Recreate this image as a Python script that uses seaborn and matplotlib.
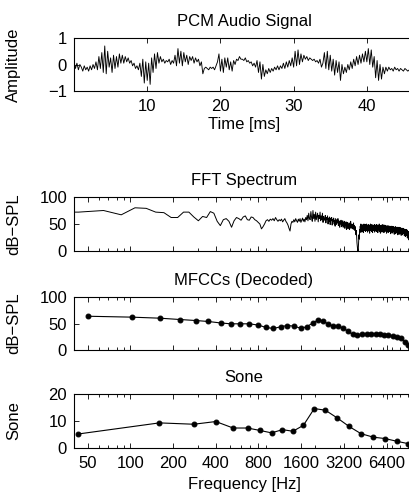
import numpy as np
import matplotlib
matplotlib.use("Agg")
import matplotlib.pyplot as plt
import matplotlib.ticker as mticker
import seaborn as sns

# ---------------- data ----------------
pcm_step_ms = 0.2
pcm_amplitude = [
    0.1, -0.15, 0.05, -0.2, 0.0,   -0.1, -0.25, -0.05, -0.2, -0.1,
    -0.25, -0.05, -0.2, 0.0, -0.15, 0.1, -0.2, 0.3, -0.15, 0.45,
    -0.3, 0.7, -0.35, 0.5, -0.1,   0.25, -0.3, 0.35, -0.15, 0.3,
    -0.1, 0.4, 0.05, 0.35, 0.05,   0.3, 0.1, 0.25, 0.05, 0.15,
    -0.05, 0.05, -0.15, -0.05, -0.2, 0.05, -0.45, 0.2, -0.7, 0.1,
    -0.6, 0.05, -0.75, 0.25, -0.3, 0.4, -0.15, 0.45, 0.05, 0.3,
    0.1, 0.2, 0.05, 0.15, 0.1,     0.2, 0.0, 0.15, 0.05, 0.35,
    -0.05, 0.6, 0.05, 0.5, -0.05,  0.45, 0.1, 0.35, 0.0, 0.3,
    0.15, 0.3, 0.05, 0.25, 0.1,    0.2, -0.05, 0.1, -0.35, -0.15,
    -0.1, -0.15, -0.2, -0.1, -0.15, -0.1, -0.2, -0.05, 0.1, 0.4,
    -0.25, 0.2, -0.3, 0.25, -0.1,  0.25, -0.2, 0.1, -0.25, 0.15,
    0.0, 0.2, 0.15, 0.3, 0.2,      0.2, 0.15, 0.25, 0.1, 0.15,
    0.05, 0.1, -0.05, 0.05, -0.1,  0.15, -0.3, 0.1, -0.55, 0.0,
    -0.45, -0.2, -0.35, -0.15, -0.3, -0.15, -0.25, -0.1, -0.2, -0.05,
    -0.2, -0.05, -0.15, 0.05, -0.15, 0.1, -0.1, 0.15, -0.05, 0.25,
    -0.1, 0.5, -0.05, 0.55, 0.0,   0.4, 0.1, 0.35, 0.2, 0.3,
    0.15, 0.25, 0.2, 0.15, 0.2,    0.1, 0.15, 0.05, 0.2, -0.1,
    0.05, 0.45, -0.15, 0.5, -0.2,  0.35, -0.25, 0.2, -0.4, 0.15,
    -0.3, 0.1, -0.6, 0.0, -0.35,   -0.1, -0.3, 0.0, -0.2, 0.1,
    -0.15, 0.2, -0.05, 0.3, 0.0,   0.35, 0.05, 0.4, 0.1, 0.5,
    0.1, 0.6, 0.0, 0.55, -0.1,     0.3, -0.5, 0.15, -0.6, 0.0,
    -0.55, -0.1, -0.35, -0.1, -0.25, -0.1, -0.2, -0.15, -0.25, -0.1,
    -0.2, -0.15, -0.25, -0.15, -0.2, -0.25, -0.15, -0.2, -0.25, -0.2,
    -0.2, -0.15,
]

fft_sample_rate = 22050
fft_size = 1024
fft_db = [  # magnitude per FFT bin, starting at bin 1
    72, 72, 75, 67, 80, 79, 72, 71, 62, 62,
    72, 72, 63, 56, 64, 62, 73, 70, 55, 47,
    58, 60, 55, 44, 56, 62, 60, 57, 63, 65,
    58, 57, 63, 62, 58, 56, 53, 50, 41, 45,
    50, 56, 58, 55, 59, 57, 60, 56, 62, 58,
    55, 58, 56, 59, 54, 57, 60, 55, 52, 48,
    42, 37, 50, 55, 53, 58, 54, 60, 56, 53,
    59, 55, 60, 53, 57, 61, 55, 59, 54, 62,
    58, 66, 56, 70, 60, 58, 73, 62, 55, 75,
    60, 68, 55, 72, 58, 64, 70, 54, 66, 60,
    72, 56, 65, 58, 70, 53, 64, 60, 57, 66,
    52, 62, 58, 65, 50, 61, 55, 63, 49, 60,
    56, 62, 48, 58, 54, 61, 50, 57, 46, 60,
    55, 49, 58, 52, 60, 47, 56, 53, 44, 55,
    50, 57, 45, 52, 48, 56, 44, 53, 49, 55,
    42, 51, 47, 54, 40, 50, 46, 53, 41, 49,
    45, 52, 40, 48, 44, 55, 42, 47, 50, 43,
    49, 41, 46, 52, 40, 47, 44, 38, 45, 35,
    30, 38, 25, 15, 8, 2, 0, 5, 18, 30,
    22, 40, 34, 46, 38, 50, 35, 44, 48, 36,
    47, 40, 49, 34, 45, 50, 38, 46, 42, 49,
    36, 47, 44, 50, 38, 45, 48, 35, 46, 42,
    49, 37, 45, 40, 48, 33, 46, 42, 50, 38,
    44, 47, 36, 49, 41, 45, 34, 48, 43, 46,
    38, 47, 42, 49, 35, 44, 46, 40, 48, 37,
    45, 42, 49, 36, 46, 41, 48, 34, 44, 47,
    39, 46, 43, 50, 36, 45, 41, 47, 33, 44,
    46, 38, 48, 42, 45, 35, 47, 40, 44, 49,
    37, 45, 41, 47, 34, 44, 46, 39, 48, 36,
    43, 45, 38, 47, 40, 44, 33, 46, 41, 45,
    37, 44, 40, 47, 34, 43, 45, 38, 46, 36,
    42, 44, 37, 46, 39, 43, 32, 45, 40, 44,
    36, 43, 39, 46, 33, 42, 44, 37, 45, 35,
    41, 43, 36, 45, 38, 42, 31, 44, 39, 43,
    35, 42, 38, 45, 32, 41, 43, 36, 44, 34,
    40, 42, 35, 44, 37, 41, 30, 43, 38, 42,
    34, 41, 37, 44, 31, 40, 42, 35, 43, 33,
    39, 41, 34, 43, 36, 40, 29, 42, 37, 41,
    33, 40, 36, 42, 30, 39, 41, 34, 42, 32,
    38, 40, 33, 41, 35, 39, 28, 40, 36, 39,
    31, 38, 34, 40, 27, 37, 39, 32, 40, 29,
    36, 38, 30, 39, 33, 36, 24, 37, 33, 35,
    27, 35, 31, 36, 22, 33, 35, 26, 32, 20,
    30, 18, 28, 22, 26, 16, 25, 20, 23, 15,
]

mfcc_freq_hz = [50, 102, 162, 224, 290, 354, 433, 512, 593, 689,
                798, 905, 1018, 1148, 1278, 1425, 1589, 1752, 1930, 2114,
                2293, 2487, 2697, 2926, 3173, 3442, 3697, 3984, 4320, 4640,
                4977, 5371, 5760, 6144, 6590, 7077, 7553, 8062, 8640, 9120]
mfcc_db = [63.7, 62, 60, 57.5, 55.6, 53.8, 51, 49.4, 49.4, 49.4,
           47, 42.5, 40.6, 43.8, 46.2, 45, 41, 43.8, 51, 57,
           54.4, 48.8, 45, 45, 41, 35, 29.4, 27.5, 29.4, 30.6,
           30.6, 30.6, 30, 28.8, 27.5, 26.3, 24.4, 21.9, 15.6, 9.4]

sone_freq_hz = [43, 160, 280, 400, 530, 670, 820, 990, 1180, 1400,
                1660, 1980, 2370, 2880, 3480, 4230, 5170, 6250, 7550, 9120]
sone_values = [5.2, 9.3, 8.8, 9.8, 7.4, 7.4, 6.5, 5.6, 6.8, 6.2,
               8.4, 14.6, 14.0, 11.1, 8.0, 5.3, 4.0, 3.5, 2.5, 1.6]

time_ticks = [10, 20, 30, 40]
freq_ticks = [50, 100, 200, 400, 800, 1600, 3200, 6400]
freq_limits = (40, 10000)
time_limits = (0, 46.44)

# ---------------- style ----------------
sns.set_style("ticks")
plt.rcParams["font.family"] = ["Liberation Sans", "DejaVu Sans"]
plt.rcParams["font.size"] = 12
plt.rcParams["axes.unicode_minus"] = True
for key in ("text.color", "axes.labelcolor", "xtick.color", "ytick.color",
            "axes.edgecolor"):
    plt.rcParams[key] = "black"

W, H = 409, 494
fig = plt.figure(figsize=(W / 100, H / 100), dpi=100)


def add_axes(top, bottom, left=74, right=414):
    return fig.add_axes([left / W, 1 - bottom / H, (right - left) / W, (bottom - top) / H])


def style(ax):
    for s in ax.spines.values():
        s.set_color("black")
        s.set_linewidth(0.8)
    ax.tick_params(which="both", direction="in", top=True, right=True,
                   colors="black", labelsize=12, width=0.6)
    ax.tick_params(which="major", length=3.5)
    ax.tick_params(axis="x", which="major", pad=6)
    ax.tick_params(axis="y", which="major", pad=5)
    ax.tick_params(which="minor", length=2)
    ax.yaxis.set_label_coords(-0.155, 0.5)


ax1 = add_axes(38, 91)
ax2 = add_axes(197, 251)
ax3 = add_axes(297, 350)
ax4 = add_axes(394, 448)

# PCM
pcm_time = np.arange(len(pcm_amplitude)) * pcm_step_ms
sns.lineplot(x=pcm_time, y=pcm_amplitude, ax=ax1, color="black", lw=0.65,
             estimator=None, sort=False)
ax1.set_xlim(*time_limits)
ax1.set_ylim(-1, 1)
ax1.set_xticks(time_ticks)
ax1.set_yticks([-1, 0, 1])
ax1.set_title("PCM Audio Signal", fontsize=12, pad=9)
ax1.set_ylabel("Amplitude")
ax1.set_xlabel("Time [ms]", labelpad=2)

# FFT
fft_freq = (np.arange(len(fft_db)) + 1) * fft_sample_rate / fft_size
sns.lineplot(x=fft_freq, y=fft_db, ax=ax2, color="black", lw=0.7,
             estimator=None, sort=False)
ax2.set_title("FFT Spectrum", fontsize=12, pad=9)
ax2.set_ylabel("dB\u2212SPL")
ax2.set_ylim(0, 100)
ax2.set_yticks([0, 50, 100])

# MFCC
sns.lineplot(x=mfcc_freq_hz, y=mfcc_db, ax=ax3, color="black", lw=0.8,
             marker="o", markersize=3.5, markeredgecolor="black",
             estimator=None, sort=False)
ax3.set_title("MFCCs (Decoded)", fontsize=12, pad=9)
ax3.set_ylabel("dB\u2212SPL")
ax3.set_ylim(0, 100)
ax3.set_yticks([0, 50, 100])

# Sone
sns.lineplot(x=sone_freq_hz, y=sone_values, ax=ax4, color="black", lw=0.8,
             marker="o", markersize=3.5, markeredgecolor="black",
             estimator=None, sort=False)
ax4.set_title("Sone", fontsize=12, pad=9)
ax4.set_ylabel("Sone")
ax4.set_ylim(0, 20)
ax4.set_yticks([0, 10, 20])
ax4.set_xlabel("Frequency [Hz]", labelpad=4)

for ax in (ax2, ax3, ax4):
    ax.set_xscale("log")
    ax.set_xlim(*freq_limits)
    ax.xaxis.set_major_locator(mticker.FixedLocator(freq_ticks))
    ax.xaxis.set_minor_locator(mticker.LogLocator(base=10, subs=np.arange(2, 10)))
    ax.xaxis.set_minor_formatter(mticker.NullFormatter())
    ax.set_xticklabels([str(t) for t in freq_ticks])
for ax in (ax2, ax3):
    ax.tick_params(labelbottom=False)
    ax.set_xlabel("")

for ax in (ax1, ax2, ax3, ax4):
    style(ax)

fig.savefig("out.png", dpi=100)
